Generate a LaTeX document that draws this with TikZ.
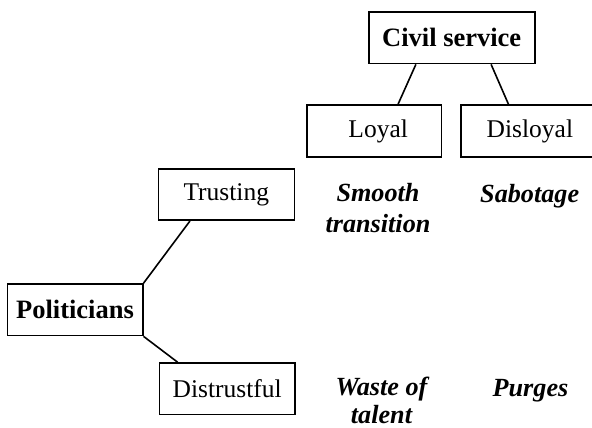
\documentclass[tikz,border=0pt]{standalone}
\usepackage{fontspec}
\setmainfont{Liberation Serif}
\usetikzlibrary{calc}
\begin{document}
\begin{tikzpicture}[x=1pt,y=-1pt,
  box/.style={draw, line width=1.6pt, inner sep=0pt, minimum height=51.5pt,
    font=\fontsize{25.5}{30}\selectfont},
  head/.style={box, font=\fontsize{26.5}{30}\selectfont\bfseries},
  cell/.style={align=center, inner sep=0pt,
    font=\fontsize{26.2}{30.5}\selectfont\bfseries\itshape},
  link/.style={line width=1.6pt}]
\useasboundingbox (0,0) rectangle (592,428);

% boxes (the Disloyal box runs past the right edge of the page)
\node[head, minimum width=166pt]   (cs)       at (451.7,37.8)  {Civil service};
\node[box,  minimum width=134.3pt] (loyal)    at (374.2,131)   {\hspace*{8pt}Loyal};
\node[box,  minimum width=134.3pt] (disloyal) at (527.9,131)   {\hspace*{4pt}Disloyal};
\node[box,  minimum width=136pt]   (trust)    at (226.3,194.5) {Trusting};
\node[head, minimum width=135.4pt] (pol)      at (75,309.8)    {Politicians};
\node[box,  minimum width=135.7pt] (distrust) at (227.2,388.7) {Distrustful};

% outcome cells
\node[cell] (smooth) at (378,208) {Smooth\\transition};
\node[cell, anchor=base] (sabot) at (529.7,202) {Sabotage};
\node[cell, font=\fontsize{26.2}{28}\selectfont\bfseries\itshape] (waste) at (381.5,400.5) {Waste of\\talent};
\node[cell, anchor=base] (purges) at (530.5,396.5) {Purges};

% connectors
\draw[link] ($(cs.south west)+(48,0)$)    -- ($(loyal.north west)+(91.7,0)$);
\draw[link] ($(cs.south east)+(-44.4,0)$) -- ($(disloyal.north west)+(48.6,0)$);
\draw[link] (pol.north east) -- ($(trust.south west)+(32.4,0)$);
\draw[link] (pol.south east) -- ($(distrust.north west)+(19,0)$);
\end{tikzpicture}
\end{document}
